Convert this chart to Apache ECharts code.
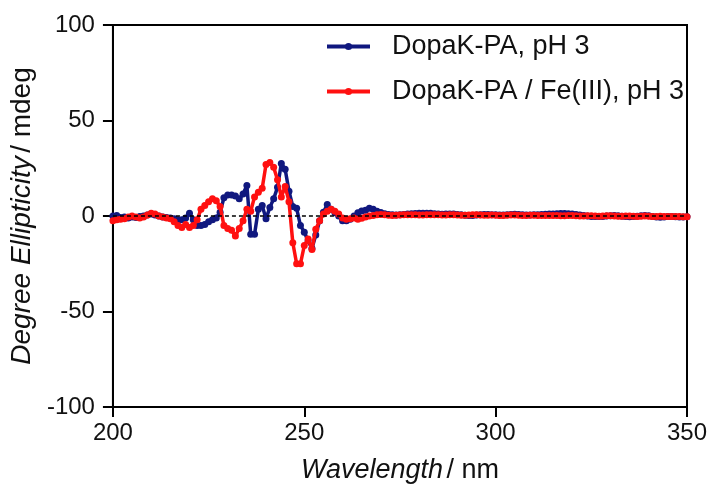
<!DOCTYPE html>
<html>
<head>
<meta charset="utf-8">
<script src="https://cdn.jsdelivr.net/npm/echarts@6/dist/echarts.min.js"></script>
<style>
html,body{margin:0;padding:0;background:#fff;}
#chart{width:715px;height:500px;}
</style>
</head>
<body>
<div id="chart"></div>
<script>
const wavelengths = [
200,201,202,203,204,205,206,207,208,209,
210,211,212,213,214,215,216,217,218,219,
220,221,222,223,224,225,226,227,228,229,
230,231,232,233,234,235,236,237,238,239,
240,241,242,243,244,245,246,247,248,249,
250,251,252,253,254,255,256,257,258,259,
260,261,262,263,264,265,266,267,268,269,
270,271,272,273,274,275,276,277,278,279,
280,281,282,283,284,285,286,287,288,289,
290,291,292,293,294,295,296,297,298,299,
300,301,302,303,304,305,306,307,308,309,
310,311,312,313,314,315,316,317,318,319,
320,321,322,323,324,325,326,327,328,329,
330,331,332,333,334,335,336,337,338,339,
340,341,342,343,344,345,346,347,348,349,
350];

// DopaK-PA, pH 3 (mdeg)
const dopakPA = [
0,0.3,-0.8,-0.5,-1,-0.5,-0.8,-0.3,0,0.5,
1,0.5,0,-0.5,-0.8,-1,-1.5,-2,-2,-1,
1.5,-2,-5,-5,-4.5,-3,-2,-1,2,9.5,
11,11,10.5,9,11.5,16,-9.5,-9.5,3.5,5.5,
-1.5,4.5,9,15,27.5,24.5,13,5,4,-5,
-8.5,-13,-17,-10,-2.5,2,6,3.5,1.7,0,
-2.5,-2.5,-1.7,0,1.7,2.6,3,4,3.5,2.5,
1.8,1.2,0.8,0.6,0.5,0.6,0.8,1.0,1.2,1.3,
1.4,1.5,1.5,1.4,1.2,1.0,0.9,1.0,1.1,1.0,
0.8,0.6,0.4,0.3,0.3,0.5,0.7,0.8,0.8,0.7,
0.6,0.5,0.5,0.6,0.8,0.9,0.8,0.6,0.5,0.5,
0.6,0.7,0.8,0.9,1.0,1.1,1.2,1.3,1.3,1.2,
1.0,0.8,0.5,0.2,0.0,-0.2,-0.3,-0.3,-0.2,0,
0.1,0.2,0.1,-0.1,-0.3,-0.4,-0.3,-0.1,0.1,0.2,
0.1,-0.2,-0.5,-0.6,-0.5,-0.3,-0.3,-0.4,-0.5,-0.5,
-0.4];

// DopaK-PA / Fe(III), pH 3 (mdeg)
const dopakPAFe = [
-2.5,-2,-1.7,-1.5,-0.5,0,-0.5,-1,-0.5,0.5,
1.5,1,0,-0.5,-1,-1.5,-3,-5,-6,-4.5,
-6,-5,-2,3.5,5.5,7.5,9,8,5,-5,
-6.5,-7.5,-10.5,-6.5,-2.5,3.5,2.5,10,12.5,14.5,
27,28,25.5,19,10,15.5,7.5,-14,-25,-25,
-15.5,-12,-17.5,-7,-2.5,1,2.5,3.5,2.5,1,
-1,-1.7,-1.5,-1,-1.7,-1.2,-0.5,0,0.3,0.6,
0.8,0.6,0.4,0.3,0.4,0.5,0.6,0.7,0.7,0.6,
0.5,0.5,0.6,0.7,0.7,0.6,0.5,0.5,0.6,0.6,
0.5,0.4,0.4,0.5,0.6,0.6,0.5,0.4,0.4,0.5,
0.4,0.3,0.3,0.4,0.5,0.5,0.4,0.3,0.3,0.4,
0.4,0.3,0.2,0.2,0.3,0.3,0.2,0.1,0.1,0.2,
0.2,0.1,0.0,0.0,0.1,0.1,0.0,-0.1,0.0,0.1,
0.1,0.0,-0.1,-0.1,0.0,0.0,-0.1,-0.2,-0.1,0.0,
-0.1,-0.2,-0.2,-0.1,-0.2,-0.3,-0.3,-0.2,-0.3,-0.4,
-0.4];

const xTicks = [200, 250, 300, 350];
const yTicks = [-100, -50, 0, 50, 100];
const seriesNames = ['DopaK-PA, pH 3', 'DopaK-PA / Fe(III), pH 3'];

const pairs = (ys) => wavelengths.map((x, i) => [x, ys[i]]);
const FONT = 'Liberation Sans, Arial, sans-serif';

const chart = echarts.init(document.getElementById('chart'), null, {renderer: 'canvas'});
chart.setOption({
  animation: false,
  backgroundColor: '#ffffff',
  grid: {left: 111, right: 28, top: 25, bottom: 93, show: true, borderColor: '#000', borderWidth: 2, backgroundColor: 'transparent'},
  legend: {
    orient: 'vertical', left: 325, top: 33,
    itemWidth: 43, itemHeight: 9, itemGap: 18,
    padding: 0,
    lineStyle: {width: 4},
    textStyle: {fontFamily: FONT, fontSize: 27, color: '#111', lineHeight: 27, padding: [0, 0, 0, 17]},
    data: seriesNames
  },
  xAxis: {
    type: 'value', min: xTicks[0], max: xTicks[xTicks.length - 1], interval: 50,
    axisLine: {show: true, onZero: false, lineStyle: {color: '#000', width: 2}},
    axisTick: {show: true, inside: false, length: 10, lineStyle: {color: '#000', width: 2}},
    axisLabel: {fontFamily: FONT, fontSize: 24, color: '#111', margin: 14},
    splitLine: {show: false},
    name: '{i|Wavelength} {n|/ nm}', nameLocation: 'middle', nameGap: 50,
    nameTextStyle: {rich: {i: {fontFamily: FONT, fontSize: 27, fontStyle: 'italic', color: '#111'}, n: {fontFamily: FONT, fontSize: 27, color: '#111'}}}
  },
  yAxis: {
    type: 'value', min: yTicks[0], max: yTicks[yTicks.length - 1], interval: 50,
    axisLine: {show: true, onZero: false, lineStyle: {color: '#000', width: 2}},
    axisTick: {show: true, inside: false, length: 10, lineStyle: {color: '#000', width: 2}},
    axisLabel: {fontFamily: FONT, fontSize: 24, color: '#111', margin: 18},
    splitLine: {show: false},
    name: '{i|Degree Ellipticity} {n|/ mdeg}', nameLocation: 'middle', nameGap: 68, nameRotate: 90,
    nameTextStyle: {rich: {i: {fontFamily: FONT, fontSize: 28, fontStyle: 'italic', color: '#111'}, n: {fontFamily: FONT, fontSize: 28, color: '#111'}}}
  },
  series: [
    {
      name: seriesNames[0], type: 'line', data: pairs(dopakPA),
      symbol: 'circle', symbolSize: 7, showSymbol: true,
      lineStyle: {color: '#10187f', width: 3.5},
      itemStyle: {color: '#10187f'},
      markLine: {
        silent: true, symbol: 'none', label: {show: false},
        lineStyle: {color: '#000', type: [4, 3], width: 1.5},
        data: [{yAxis: 0}]
      },
      z: 2
    },
    {
      name: seriesNames[1], type: 'line', data: pairs(dopakPAFe),
      symbol: 'circle', symbolSize: 7, showSymbol: true,
      lineStyle: {color: '#ff1010', width: 3.5},
      itemStyle: {color: '#ff1010'},
      z: 3
    }
  ]
});
</script>
</body>
</html>
